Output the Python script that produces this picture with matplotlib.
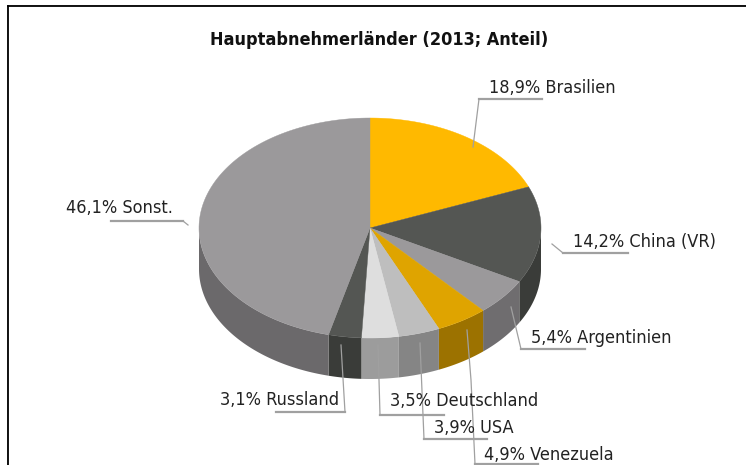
import matplotlib
matplotlib.use('Agg')
import matplotlib.pyplot as plt
import numpy as np

title = 'Hauptabnehmerländer (2013; Anteil)'
countries = ['Brasilien', 'China (VR)', 'Argentinien', 'Venezuela', 'USA', 'Deutschland', 'Russland', 'Sonst.']
shares = [18.9, 14.2, 5.4, 4.9, 3.9, 3.5, 3.1, 46.1]
top_colors = ['#FFB900', '#545653', '#9B999B', '#DFA400', '#BEBEBE', '#DEDEDE', '#545653', '#9B999B']
side_colors = ['#B38200', '#3A3C39', '#6F6D6F', '#9C7200', '#858585', '#9C9C9C', '#3A3C39', '#6B696B']

# pixel layout of the pie
cx, cy = 370, 228
rx, ry = 171, 110
depth = 41

# text x (left), text y (centre), leader line points
label_pos = [
    (489, 88, [(473, 147), (479, 99), (542, 99)]),
    (573, 242, [(552, 244), (563, 253), (628, 253)]),
    (531, 338, [(511, 307), (521, 349), (585, 349)]),
    (484, 455, [(467, 330), (471, 380), (475, 464), (538, 464)]),
    (434, 428, [(420, 343), (424, 439), (487, 439)]),
    (390, 401, [(378, 345), (380, 415), (444, 415)]),
    (220, 400, [(341, 345), (345, 412), (276, 412)]),
    (66, 208, [(188, 225), (183, 221), (111, 221)]),
]


def rim(angles):
    # angles clockwise from 12 o'clock
    a = np.radians(angles)
    return cx + rx * np.sin(a), cy - ry * np.cos(a)


fig = plt.figure(figsize=(7.46, 4.65), dpi=100)
ax = fig.add_axes([0, 0, 1, 1])
ax.set_xlim(0, 746)
ax.set_ylim(465, 0)
ax.axis('off')

# frame, only top and left
ax.plot([8, 746], [5, 5], color='#c8c8c8', lw=0.72)
ax.plot([7, 7], [6, 465], color='#c8c8c8', lw=0.72)
ax.plot([8, 746], [6.3, 6.3], color='black', lw=1.3)
ax.plot([8.3, 8.3], [6, 465], color='black', lw=1.3)

edges = np.cumsum([0] + shares) * 3.6
for i in range(len(shares)):
    start, end = edges[i], edges[i + 1]
    # side wall, only the front half is visible
    lo, hi = max(start, 90), min(end, 270)
    if lo < hi:
        x, y = rim(np.linspace(lo, hi, 80))
        ax.fill(np.r_[x, x[::-1]], np.r_[y, y[::-1] + depth], color=side_colors[i], lw=0, zorder=2)

for i in range(len(shares)):
    x, y = rim(np.linspace(edges[i], edges[i + 1], 120))
    ax.fill(np.r_[cx, x], np.r_[cy, y], color=top_colors[i], lw=0.3, zorder=3)

font = dict(family='DejaVu Sans', stretch='condensed')
ax.text(379, 40, title, ha='center', va='center', fontsize=13, fontweight='bold', color='#111111', **font)

for share, name, (tx, ty, pts) in zip(shares, countries, label_pos):
    label = '{0}% {1}'.format(str(share).replace('.', ','), name)
    ax.text(tx, ty, label, ha='left', va='center', fontsize=13, color='#222222', zorder=6, **font)
    xs = [p[0] for p in pts]
    ys = [p[1] for p in pts]
    ax.plot(xs[:-1], ys[:-1], color='#a0a0a0', lw=0.9, zorder=5)
    ax.plot(xs[-2:], ys[-2:], color='#a0a0a0', lw=1.6, zorder=5)

fig.savefig('out.png', dpi=100)
